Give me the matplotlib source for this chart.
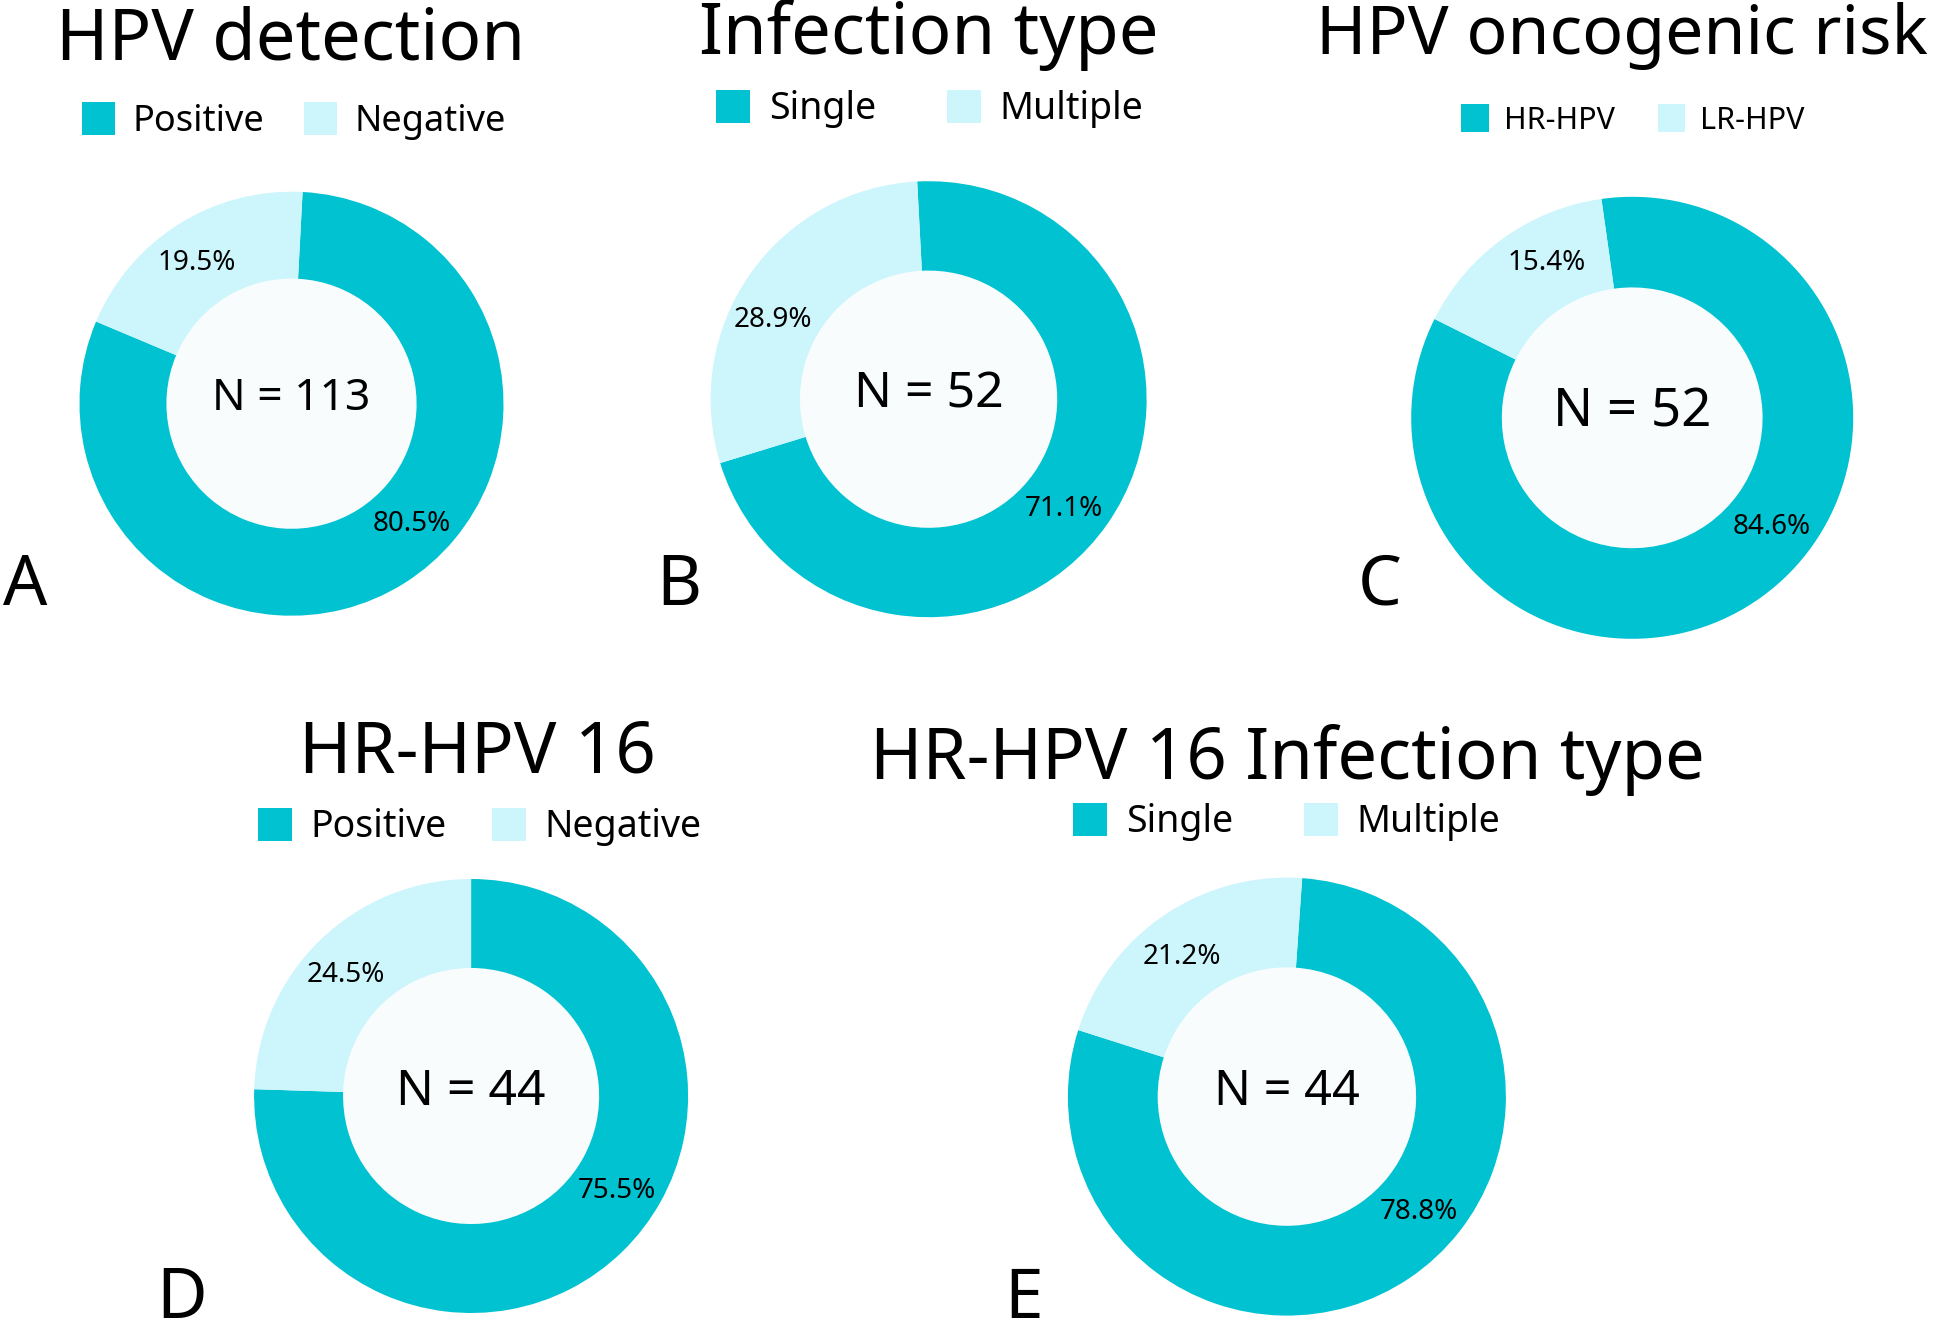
import numpy as np
import matplotlib
matplotlib.use('Agg')
import matplotlib.pyplot as plt
from matplotlib.patches import Circle

plt.rcParams['font.family'] = ['Noto Sans', 'DejaVu Sans']

# data
titles = ['HPV detection', 'Infection type', 'HPV oncogenic risk', 'HR-HPV 16', 'HR-HPV 16 Infection type']
panel_letters = ['A', 'B', 'C', 'D', 'E']
category_labels = [['Positive', 'Negative'], ['Single', 'Multiple'], ['HR-HPV', 'LR-HPV'],
                   ['Positive', 'Negative'], ['Single', 'Multiple']]
main_pct = [80.5, 71.1, 84.6, 75.5, 78.8]
other_pct = [19.5, 28.9, 15.4, 24.5, 21.2]
n_totals = [113, 52, 52, 44, 44]

# layout (pixels in a 1944x1339 canvas)
W, H = 1944, 1339
centers = [(291.5, 403.7), (928.6, 399.2), (1632.2, 417.8), (471.1, 1096.0), (1286.9, 1096.6)]
radii = [212, 218, 221, 217, 219]
start_angles = [87, 93, 98, 90, 86]
main_label_ang = [-45, -39, -38, -33, -41]
other_label_ang = [124, 153, 119, 136, 127]
title_pos = [(291, 59), (929, 54), (1622, 54), (477, 773), (1287, 779)]
title_fs = [51, 51, 49, 51, 51]
legend_pos = [(294, 121), (930, 109), (1633, 120), (480, 827), (1287, 822)]
legend_fs = [26, 27, 22, 27, 27]
legend_gap = [1.1, 1.9, 1.4, 1.2, 1.9]
n_fs = [32, 36, 38, 36, 35]
letter_pos = [(25, 605), (679, 605), (1380, 605), (182, 1318), (1024, 1318)]

dark = '#00C2D1'
light = '#CCF5FC'
hole = '#F8FCFC'

fig = plt.figure(figsize=(W / 100, H / 100), dpi=100)


def fx(x):
    return x / W


def fy(y):
    return 1 - y / H


for i in range(5):
    cx, cy = centers[i]
    R = radii[i]
    ax = fig.add_axes([fx(cx - R), fy(cy + R), 2 * R / W, 2 * R / H])
    wedges, _ = ax.pie([main_pct[i], other_pct[i]], colors=[dark, light], startangle=start_angles[i],
                       counterclock=False, radius=1.0, wedgeprops=dict(width=0.41, linewidth=0))
    ax.add_patch(Circle((0, 0), 0.59, fc=hole, ec='none', zorder=0))
    ax.set_xlim(-1, 1)
    ax.set_ylim(-1, 1)
    ax.set_aspect('equal')
    ax.axis('off')

    # percentage labels
    for pct, ang in [(main_pct[i], main_label_ang[i]), (other_pct[i], other_label_ang[i])]:
        a = np.deg2rad(ang)
        ax.text(0.8 * np.cos(a), 0.8 * np.sin(a), f'{pct}%', ha='center', va='center', fontsize=20)

    ax.text(0, 0.02, f'N = {n_totals[i]}', ha='center', va='center', fontsize=n_fs[i])

    fig.text(fx(title_pos[i][0]), fy(title_pos[i][1]), titles[i], ha='center', va='baseline',
             fontsize=title_fs[i])
    fig.text(fx(letter_pos[i][0]), fy(letter_pos[i][1]), panel_letters[i], ha='center', va='baseline', fontsize=50)

    fig.legend(wedges, category_labels[i], loc='center', ncol=2, frameon=False,
               bbox_to_anchor=(fx(legend_pos[i][0]), fy(legend_pos[i][1])),
               fontsize=legend_fs[i], handlelength=0.9, handleheight=1.0,
               handletextpad=0.5, columnspacing=legend_gap[i], borderpad=0)

fig.savefig('out.png', dpi=100, facecolor='white')
